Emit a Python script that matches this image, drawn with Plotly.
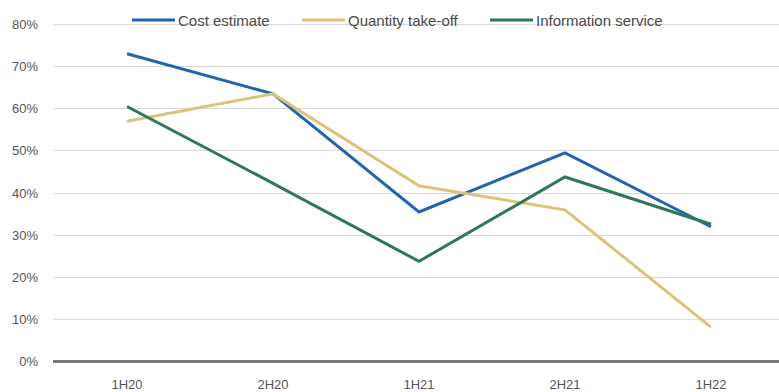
import plotly.graph_objects as go

# Half-year periods and share of respondents (%) per service
periods = ["1H20", "2H20", "1H21", "2H21", "1H22"]
cost_estimate = [73, 63.5, 35.5, 49.5, 32]
quantity_takeoff = [57, 63.5, 41.7, 36, 8.2]
information_service = [60.5, 42.3, 23.8, 43.8, 32.6]

series_names = ["Cost estimate", "Quantity take-off", "Information service"]
series_values = [cost_estimate, quantity_takeoff, information_service]
series_colors = ["#2364AE", "#DCC37C", "#2E7858"]

y_ticks = list(range(0, 81, 10))
y_tick_text = [f"{v}%" for v in y_ticks]

W, H = 779, 392
M_L, M_R, M_T, M_B = 53, 0, 23, 29
PW, PH = W - M_L - M_R, H - M_T - M_B


def px_x(x):
    return (x - M_L) / PW


def px_y(y):
    return (H - M_B - y) / PH


fig = go.Figure()
for name, vals, col in zip(series_names, series_values, series_colors):
    fig.add_trace(go.Scatter(
        x=periods, y=vals, name=name, mode="lines",
        line=dict(color=col, width=3), showlegend=False,
    ))

shapes = []
annotations = []

# white band that interrupts the top gridline behind the key
shapes.append(dict(type="rect", xref="paper", yref="paper", layer="between",
                   x0=px_x(100), x1=px_x(690), y0=px_y(31), y1=px_y(11),
                   fillcolor="white", line=dict(width=0)))

# key entries: a short line sample followed by the series name
key_x = [132, 302, 490]
for kx, name, col in zip(key_x, series_names, series_colors):
    shapes.append(dict(type="line", xref="paper", yref="paper", layer="above",
                       x0=px_x(kx), x1=px_x(kx + 43), y0=px_y(20), y1=px_y(20),
                       line=dict(color=col, width=3)))
    annotations.append(dict(xref="paper", yref="paper", x=px_x(kx + 44), y=px_y(20),
                            text=name, showarrow=False, xanchor="left", yanchor="middle",
                            font=dict(family="Liberation Sans, Arial, sans-serif",
                                      size=15, color="#4A4A4A")))

fig.update_layout(
    width=W, height=H,
    margin=dict(l=M_L, r=M_R, t=M_T, b=M_B),
    paper_bgcolor="white", plot_bgcolor="white",
    shapes=shapes, annotations=annotations,
    font=dict(family="Liberation Sans, Arial, sans-serif", size=13, color="#555555"),
)
fig.update_xaxes(
    type="category", range=[-0.507, 4.466],
    showgrid=False, showline=False, ticks="",
    tickfont=dict(size=13, color="#555555"),
    ticklabelstandoff=12,
)
fig.update_yaxes(
    range=[-0.3, 80.3], tickvals=y_ticks, ticktext=y_tick_text,
    showgrid=True, gridcolor="#D9D9D9", gridwidth=1.2,
    zeroline=True, zerolinecolor="#7A7A7A", zerolinewidth=2.5,
    showline=False, ticks="",
    tickfont=dict(size=13, color="#555555"),
    ticklabelstandoff=14,
)

fig.write_html("out.html")
